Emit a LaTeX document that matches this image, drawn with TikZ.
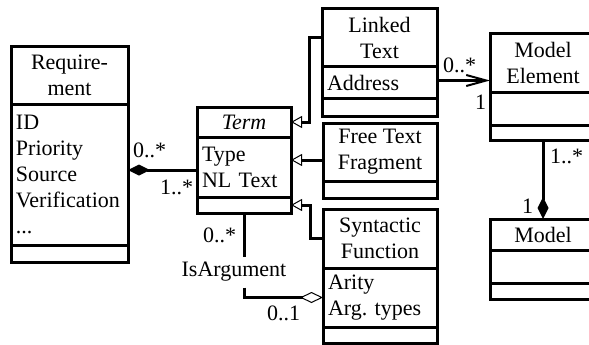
\documentclass[tikz,border=0pt]{standalone}
\usepackage{fontspec}
\setmainfont{Liberation Serif}
\frenchspacing
\usetikzlibrary{arrows.meta,calc}
\begin{document}
\begin{tikzpicture}[x=1pt,y=-1pt,
  every node/.style={font=\fontsize{22}{26}\selectfont, outer sep=0pt},
  comp/.style 2 args={draw, line width=3pt, inner sep=0pt, anchor=north west,
    minimum width=#1, minimum height=#2},
  head/.style={align=center},
  attrs/.style={align=left, text width=#1},
  conn/.style={line width=3pt},
  gen/.style={conn, -{Triangle[open, length=11pt, width=12pt, line width=1pt]}},
  compo/.style={conn, -{Diamond[length=22pt, width=11pt]}},
  aggr/.style={conn, -{Diamond[open, length=23pt, width=11pt, line width=1pt]}},
  nav/.style={conn, -{Straight Barb[length=20pt, width=11pt, line width=2pt]}},
  mult/.style={inner sep=0pt, anchor=base west}
]
\useasboundingbox (0,0) rectangle (589,345);
\clip (0,0) rectangle (589,345);

% Requirement
\node[comp={117}{57}, head] (reqh) at (11,47) {Require-\\ment};
\node[comp={117}{141}, attrs=107pt] (reqa) at (reqh.south west) {ID\\Priority\\Source\\Verification\\...};
\node[comp={117}{17}] (reqo) at (reqa.south west) {};

% Term
\node[comp={94}{30}, head] (termh) at (197,107) {\itshape Term};
\node[comp={94}{60}, attrs=84pt] (terma) at (termh.south west) {Type\\NL Text};
\node[comp={94}{16}] (termo) at (terma.south west) {};

% Linked Text
\node[comp={115}{58}, head] (lth) at (322,9) {Linked\\Text};
\node[comp={115}{31}, attrs=105pt] (lta) at (lth.south west) {Address};
\node[comp={115}{18}] (lto) at (lta.south west) {};

% Free Text Fragment
\node[comp={114}{58}, head] (fth) at (323,123) {Free Text\\Fragment};
\node[comp={114}{17}] (fta) at (fth.south west) {};

% Syntactic Function
\node[comp={114}{59}, head] (sfh) at (323,209) {Syntactic\\Function};
\node[comp={114}{59}, attrs=104pt] (sfa) at (sfh.south west) {Arity\\Arg. types};
\node[comp={114}{16}] (sfo) at (sfa.south west) {};

% Model Element
\node[comp={106}{58}, head] (meh) at (490,34) {Model\\Element};
\node[comp={106}{33}] (mea) at (meh.south west) {};
\node[comp={106}{15}] (meo) at (mea.south west) {};

% Model
\node[comp={106}{31}, head] (mh) at (490,219) {Model};
\node[comp={106}{33}] (ma) at (mh.south west) {};
\node[comp={106}{16}] (mo) at (ma.south west) {};

% Generalizations towards Term
\draw[gen] (lth.west) -- ++(-13,0) |- (termh.east);
\coordinate (ftl) at ([yshift=-8pt]fth.west);
\draw[gen] (ftl) -- (ftl -| terma.east);
\draw[gen] (sfh.west) -- ++(-13,0) |- (termo.east);

% Requirement composed of Terms
\coordinate (rt) at ([yshift=-3pt]terma.west);
\draw[compo] (rt) -- (rt -| reqa.east);
\node[mult] at (133,157) {0..*};
\node[mult] at (160,194) {1..*};

% Linked Text refers to Model Element
\coordinate (lm) at ([yshift=2pt]lta.east);
\draw[nav] (lm) -- (lm -| meh.west);
\node[mult] at (443,73) {0..*};
\node[mult] at (475,110) {1};

% Model composed of Model Elements
\draw[compo] (meo.south) -- (mh.north);
\node[mult] at (550,163) {1..*};
\node[mult] at (522,213) {1};

% IsArgument aggregation
\node[inner sep=0pt, minimum height=31pt] (isarg) at ([xshift=-10pt, yshift=-59pt]termo.south) {IsArgument};
\draw[conn] (termo.south) -- (termo.south |- isarg.north);
\draw[aggr] (termo.south |- isarg.south) |- (sfa.west);
\node[mult] at (203,242) {0..*};
\node[mult] at (267,320) {0..1};
\end{tikzpicture}
\end{document}
